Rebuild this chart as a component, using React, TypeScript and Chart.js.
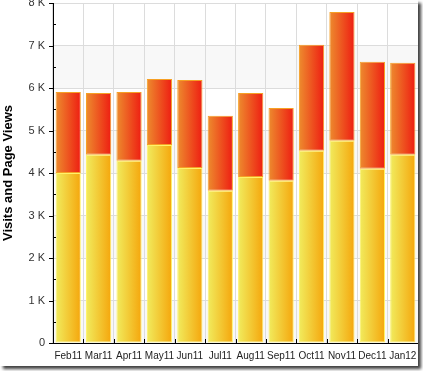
import React, { useEffect, useRef } from "react";
import { Chart, registerables } from "chart.js";

Chart.register(...registerables);

const categories = ["Feb11", "Mar11", "Apr11", "May11", "Jun11", "Jul11", "Aug11", "Sep11", "Oct11", "Nov11", "Dec11", "Jan12"];
// lower (yellow) segment
const visits = [4000, 4431, 4289, 4659, 4118, 3584, 3906, 3816, 4525, 4760, 4101, 4431];
// upper (orange) segment stacked on visits
const pageViews = [1906, 1451, 1617, 1553, 2070, 1764, 1976, 1713, 2494, 3028, 2518, 2164];
const yTickValues = [0, 1000, 2000, 3000, 4000, 5000, 6000, 7000, 8000];
const yTickLabels = ["0", "1 K", "2 K", "3 K", "4 K", "5 K", "6 K", "7 K", "8 K"];
const yAxisTitle = "Visits and Page Views";

const FONT = "'Liberation Sans', Arial, sans-serif";
const BAR_PCT = 0.83;

function gradientFill(left: string, right: string, fallback: string) {
  return (ctx: any) => {
    const chart = ctx.chart;
    const xs = chart.scales && chart.scales.x;
    if (!xs || !xs.width || ctx.type !== "data") return fallback;
    const cx = xs.getPixelForValue(ctx.dataIndex);
    const half = (xs.width / categories.length) * BAR_PCT / 2;
    const g = chart.ctx.createLinearGradient(cx - half, 0, cx + half, 0);
    g.addColorStop(0, left);
    g.addColorStop(1, right);
    return g;
  };
}

const decorPlugin = {
  id: "decor",
  beforeDraw(chart: any) {
    const { ctx, chartArea, scales } = chart;
    const y = scales.y;
    ctx.save();
    ctx.fillStyle = "#ffffff";
    ctx.fillRect(0, 0, chart.width, chart.height);
    ctx.fillStyle = "#f8f8f8";
    for (let v = 0; v < 8000; v += 2000) {
      const a = y.getPixelForValue(v);
      const b = y.getPixelForValue(v + 1000);
      ctx.fillRect(chartArea.left, b, chartArea.right - chartArea.left, a - b);
    }
    ctx.restore();
  },
  afterDraw(chart: any) {
    const { ctx, chartArea, scales } = chart;
    const y = scales.y;
    const x = scales.x;
    ctx.save();
    ctx.strokeStyle = "#000";
    ctx.lineWidth = 1;
    ctx.beginPath();
    for (const v of yTickValues) {
      const py = Math.round(y.getPixelForValue(v)) + 0.5;
      ctx.moveTo(chartArea.left - 4, py);
      ctx.lineTo(chartArea.left + 1, py);
    }
    for (let v = 500; v < 8000; v += 1000) {
      const py = Math.round(y.getPixelForValue(v)) + 0.5;
      ctx.moveTo(chartArea.left, py);
      ctx.lineTo(chartArea.left + 3, py);
    }
    const step = x.width / categories.length;
    for (let i = 1; i < categories.length; i++) {
      const px = Math.round(chartArea.left + i * step) + 0.5;
      ctx.moveTo(px, chartArea.bottom);
      ctx.lineTo(px, chartArea.bottom - 4);
    }
    ctx.stroke();
    ctx.restore();
  },
};

export default function App() {
  const ref = useRef<HTMLCanvasElement | null>(null);

  useEffect(() => {
    document.body.style.margin = "0";
    const canvas = ref.current;
    if (!canvas) return;
    const chart = new Chart(canvas, {
      type: "bar",
      data: {
        labels: categories,
        datasets: [
          {
            label: "Visits",
            data: visits,
            backgroundColor: gradientFill("#f1ec5e", "#f5a60c", "#f3c83a"),
            borderColor: "#fff26a",
            borderWidth: 1,
            borderSkipped: false,
            barPercentage: BAR_PCT,
            categoryPercentage: 1,
          },
          {
            label: "Page Views",
            data: pageViews,
            backgroundColor: gradientFill("#ed8c2e", "#ee1d12", "#ee5520"),
            borderColor: "#f6a024",
            borderWidth: 1,
            borderSkipped: false,
            barPercentage: BAR_PCT,
            categoryPercentage: 1,
          },
        ],
      },
      options: {
        responsive: false,
        animation: false,
        layout: { padding: { top: 3, right: 0, left: 0, bottom: 0 } },
        plugins: {
          legend: { display: false },
          tooltip: { enabled: false },
        },
        scales: {
          x: {
            stacked: true,
            offset: true,
            grid: { offset: true, color: "#dcdcdc", drawTicks: false },
            border: { color: "#000", width: 1 },
            ticks: {
              padding: 7,
              color: "#222",
              font: { family: FONT, size: 10 },
              maxRotation: 0,
              autoSkip: false,
            },
            afterFit: (s: any) => {
              s.height = 23;
              s.paddingLeft = 0;
              s.paddingRight = 0;
            },
          },
          y: {
            stacked: true,
            min: 0,
            max: 8000,
            afterBuildTicks: (s: any) => {
              s.ticks = yTickValues.map((v) => ({ value: v }));
            },
            grid: { color: "#dcdcdc", drawTicks: false },
            border: { color: "#000", width: 1 },
            ticks: {
              padding: 8,
              color: "#333",
              font: { family: FONT, size: 11 },
              callback: (v: any) => {
                const i = yTickValues.indexOf(Number(v));
                return i >= 0 ? yTickLabels[i] : "";
              },
            },
            title: {
              display: true,
              text: yAxisTitle,
              color: "#000",
              font: { family: FONT, size: 13, weight: "bold" },
              padding: { top: 1, bottom: 0 },
            },
            afterFit: (s: any) => {
              s.width = 53;
              s.paddingTop = 0;
              s.paddingBottom = 0;
            },
          },
        },
      },
      plugins: [decorPlugin],
    });
    return () => chart.destroy();
  }, []);

  return (
    <div
      style={{
        position: "absolute",
        left: 0,
        top: 0,
        width: 418,
        height: 366,
        background: "#fff",
        boxShadow: "3px 3px 3px rgba(0,0,0,0.75)",
      }}
    >
      <canvas ref={ref} width={418} height={366} style={{ display: "block" }} />
    </div>
  );
}
